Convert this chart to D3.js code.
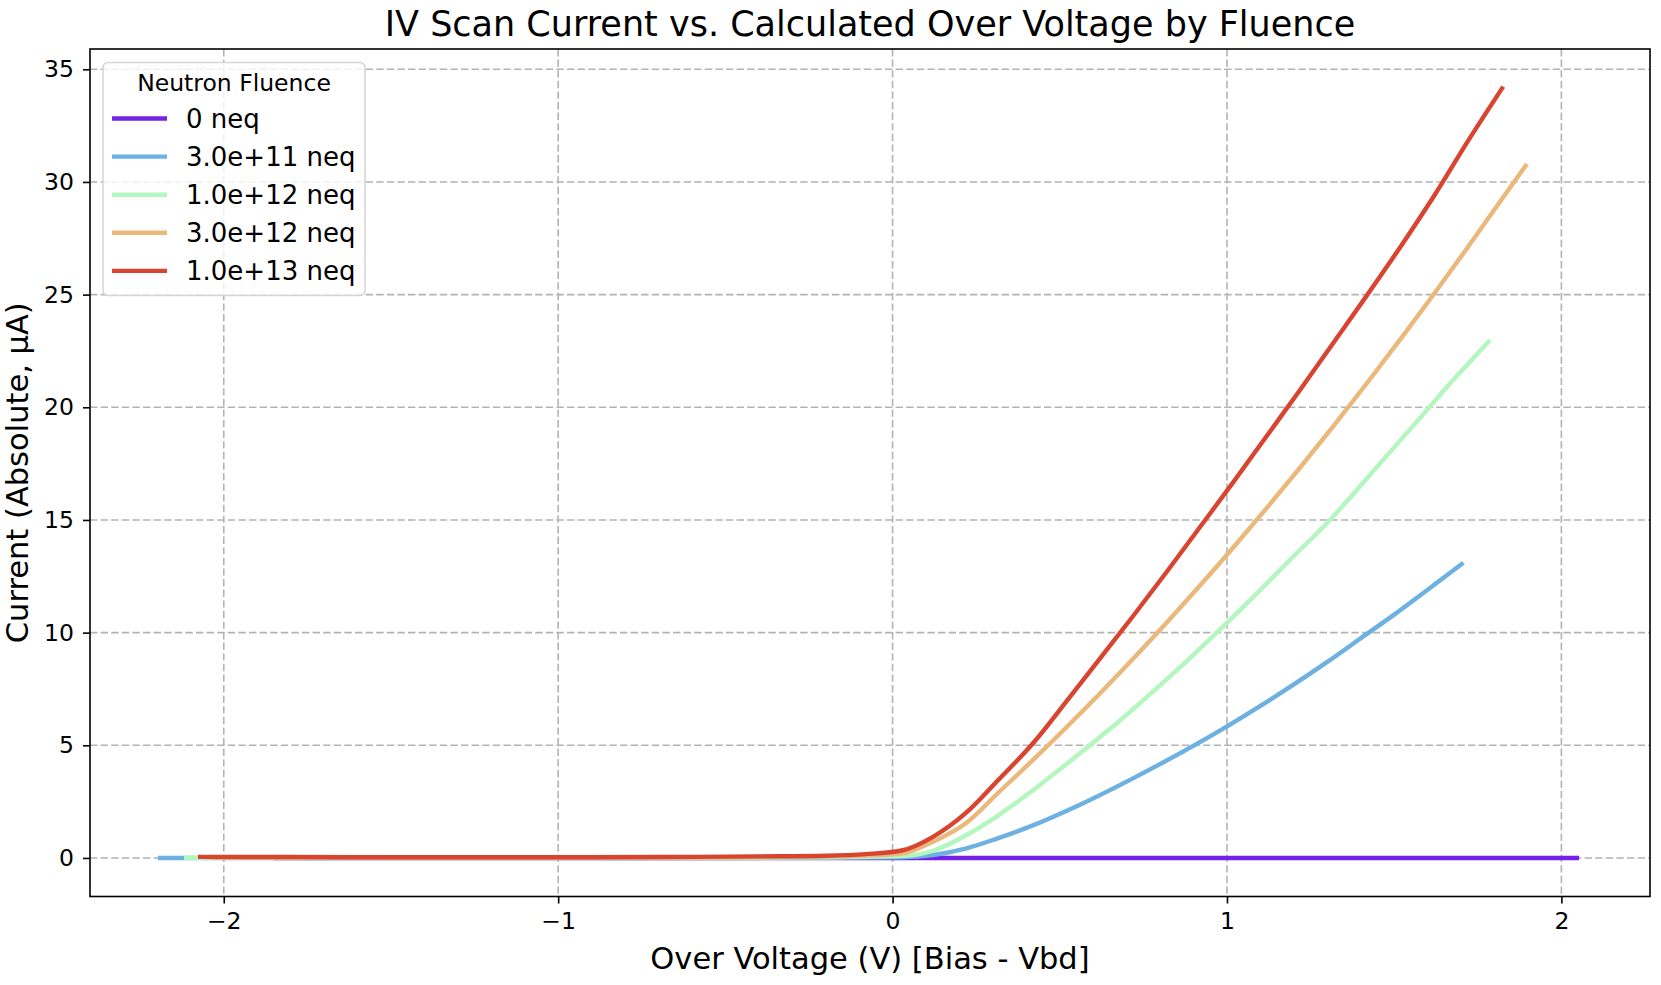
<!DOCTYPE html>
<html>
<head>
<meta charset="utf-8">
<script src="https://cdn.jsdelivr.net/npm/d3@7"></script>
<style>
  body { margin: 0; background: #fff; }
  svg { display: block; font-family: "DejaVu Sans", sans-serif; }
</style>
</head>
<body>
<svg id="chart" width="1661" height="985"></svg>
<script>
// fluence groups, in legend order
const fluenceLabels = ["0 neq", "3.0e+11 neq", "1.0e+12 neq", "3.0e+12 neq", "1.0e+13 neq"];
const fluenceColors = ["#7322e6", "#6cb1e2", "#b3f6be", "#ebb87b", "#d8442f"];

// over voltage (V) and current (uA) per fluence
const v0 = [-1.85, -1.0, 0.0, 1.0, 2.053];
const i0 = [0.0, 0.0, 0.0, 0.0, 0.0];

const v3e11 = [-2.197, -1.5, -1.0, -0.5, -0.2, 0.027, 0.121, 0.221, 0.31, 0.41, 0.57, 0.77, 0.999, 1.1, 1.2, 1.3, 1.4, 1.5, 1.6, 1.707];
const i3e11 = [0.0, 0.0, 0.0, 0.0, 0.01, 0.03, 0.13, 0.43, 0.85, 1.39, 2.43, 3.93, 5.83, 6.75, 7.7, 8.7, 9.75, 10.8, 11.9, 13.1];

const v1e12 = [-2.119, -1.5, -1.0, -0.5, -0.2, 0.027, 0.121, 0.231, 0.381, 0.48, 0.59, 0.68, 0.77, 0.87, 0.975, 1.08, 1.2, 1.308, 1.458, 1.57, 1.677, 1.787];
const i1e12 = [0.01, 0.0, 0.0, 0.01, 0.03, 0.08, 0.32, 1.1, 2.57, 3.7, 5.0, 6.1, 7.27, 8.6, 10.08, 11.6, 13.4, 15.0, 17.52, 19.4, 21.22, 22.99];

const v3e12 = [-2.04, -1.5, -1.0, -0.5, -0.2, 0.027, 0.121, 0.22, 0.32, 0.42, 0.52, 0.62, 0.72, 0.82, 0.92, 1.02, 1.12, 1.22, 1.32, 1.42, 1.52, 1.62, 1.72, 1.82, 1.897];
const i3e12 = [0.02, 0.01, 0.01, 0.03, 0.06, 0.2, 0.72, 1.55, 2.95, 4.35, 5.8, 7.3, 8.85, 10.45, 12.1, 13.8, 15.55, 17.35, 19.2, 21.1, 23.05, 25.05, 27.1, 29.2, 30.8];

const v1e13 = [-2.077, -1.8, -1.5, -1.2, -0.9, -0.6, -0.4, -0.2, -0.08, 0.027, 0.121, 0.221, 0.316, 0.42, 0.52, 0.62, 0.72, 0.82, 0.92, 1.02, 1.12, 1.22, 1.32, 1.42, 1.52, 1.62, 1.72, 1.826];
const i1e13 = [0.05, 0.04, 0.03, 0.03, 0.03, 0.05, 0.07, 0.1, 0.17, 0.33, 0.94, 2.02, 3.46, 5.09, 6.95, 8.85, 10.75, 12.7, 14.7, 16.7, 18.75, 20.8, 22.9, 25.0, 27.15, 29.4, 31.8, 34.23];

const xTicks = [-2, -1, 0, 1, 2];
const yTicks = [0, 5, 10, 15, 20, 25, 30, 35];

const seriesV = [v0, v3e11, v1e12, v3e12, v1e13];
const seriesI = [i0, i3e11, i1e12, i3e12, i1e13];
const series = fluenceLabels.map((label, k) => ({
  label,
  color: fluenceColors[k],
  points: seriesV[k].map((v, j) => [v, seriesI[k][j]]),
}));

const width = 1661;
const height = 985;
const margin = { top: 49, right: 11, bottom: 88.5, left: 90 };

const svg = d3.select("#chart");
svg.append("rect").attr("width", width).attr("height", height).attr("fill", "#fff");

const x = d3.scaleLinear().domain([-2.40, 2.265]).range([margin.left, width - margin.right]);
const y = d3.scaleLinear().domain([-1.71, 35.9]).range([height - margin.bottom, margin.top]);

const gridColor = "#b3b3b3";
const grid = svg.append("g");
grid.selectAll(".gx")
  .data(xTicks)
  .join("line")
  .attr("x1", (d) => x(d)).attr("x2", (d) => x(d))
  .attr("y1", margin.top).attr("y2", height - margin.bottom)
  .attr("stroke", gridColor).attr("stroke-width", 1.6)
  .attr("stroke-dasharray", "7.4,3.2");
grid.selectAll(".gy")
  .data(yTicks)
  .join("line")
  .attr("y1", (d) => y(d)).attr("y2", (d) => y(d))
  .attr("x1", margin.left).attr("x2", width - margin.right)
  .attr("stroke", gridColor).attr("stroke-width", 1.6)
  .attr("stroke-dasharray", "7.4,3.2");

const line = d3.line()
  .x((d) => x(d[0]))
  .y((d) => y(d[1]))
  .curve(d3.curveMonotoneX);

svg.append("g")
  .selectAll("path")
  .data(series)
  .join("path")
  .attr("d", (d) => line(d.points))
  .attr("fill", "none")
  .attr("stroke", (d) => d.color)
  .attr("stroke-width", 4.4)
  .attr("stroke-linejoin", "round")
  .attr("stroke-linecap", "butt");

// axes
const xAxis = svg.append("g")
  .attr("transform", `translate(0,${height - margin.bottom})`)
  .call(d3.axisBottom(x).tickValues(xTicks).tickFormat(d3.format("d"))
    .tickSize(7).tickPadding(9).tickSizeOuter(0));
const yAxis = svg.append("g")
  .attr("transform", `translate(${margin.left},0)`)
  .call(d3.axisLeft(y).tickValues(yTicks).tickSize(7).tickPadding(9).tickSizeOuter(0));

[xAxis, yAxis].forEach((g) => {
  g.select(".domain").remove();
  g.selectAll(".tick line").attr("stroke", "#000").attr("stroke-width", 1.6);
  g.selectAll(".tick text")
    .attr("fill", "#000")
    .style("font-family", "DejaVu Sans")
    .style("font-size", "23.5px");
});

// frame
svg.append("rect")
  .attr("x", margin.left).attr("y", margin.top)
  .attr("width", width - margin.left - margin.right)
  .attr("height", height - margin.top - margin.bottom)
  .attr("fill", "none").attr("stroke", "#000").attr("stroke-width", 1.6);

// title and labels
svg.append("text")
  .attr("x", (margin.left + width - margin.right) / 2).attr("y", 36)
  .attr("text-anchor", "middle")
  .style("font-size", "35px")
  .text("IV Scan Current vs. Calculated Over Voltage by Fluence");

svg.append("text")
  .attr("x", (margin.left + width - margin.right) / 2).attr("y", 969)
  .attr("text-anchor", "middle")
  .style("font-size", "30.5px")
  .text("Over Voltage (V) [Bias - Vbd]");

svg.append("text")
  .attr("transform", `translate(28,${(margin.top + height - margin.bottom) / 2}) rotate(-90)`)
  .attr("text-anchor", "middle")
  .style("font-size", "30.5px")
  .text("Current (Absolute, μA)");

// legend
const legend = svg.append("g").attr("transform", "translate(103,62.5)");
legend.append("rect")
  .attr("width", 262).attr("height", 233)
  .attr("rx", 5)
  .attr("fill", "#fff").attr("fill-opacity", 0.8)
  .attr("stroke", "#d6d6d6").attr("stroke-width", 1.6);
legend.append("text")
  .attr("x", 131).attr("y", 28)
  .attr("text-anchor", "middle")
  .style("font-size", "23.5px")
  .text("Neutron Fluence");

const rows = legend.selectAll(".row")
  .data(series)
  .join("g")
  .attr("transform", (d, k) => `translate(0,${56 + k * 38.1})`);
rows.append("line")
  .attr("x1", 9).attr("x2", 64)
  .attr("stroke", (d) => d.color).attr("stroke-width", 4.4);
rows.append("text")
  .attr("x", 83).attr("y", 9.5)
  .style("font-size", "26px")
  .text((d) => d.label);
</script>
</body>
</html>
